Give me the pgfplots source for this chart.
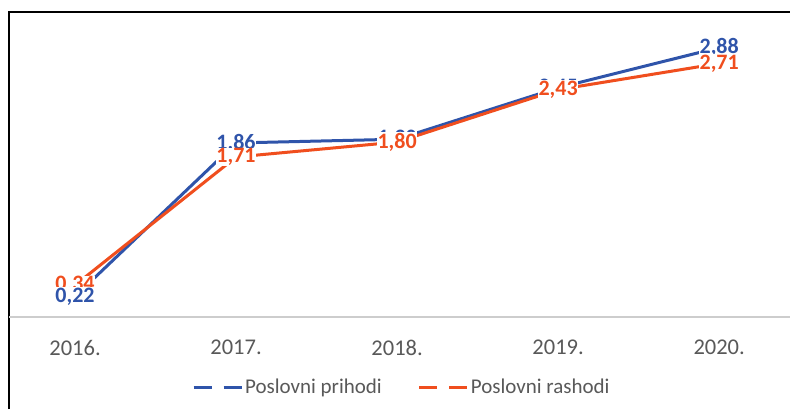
\documentclass[border=0pt]{standalone}
\usepackage{fontspec}
\setmainfont{Carlito}
\usepackage{pgfplots}
\pgfplotsset{compat=1.18}
\definecolor{cblue}{RGB}{47,84,170}
\definecolor{corange}{RGB}{240,78,30}
\definecolor{tgray}{RGB}{89,89,89}
\definecolor{agray}{RGB}{205,205,205}
\tikzset{labelnode/.style={anchor=center, fill=white, inner sep=0.5bp,
    font=\fontsize{22bp}{26bp}\selectfont\bfseries}}
\begin{document}
\begin{tikzpicture}[x=1bp,y=1bp]
\path[use as bounding box] (0,0) rectangle (790,409);
\fill[white] (0,0) rectangle (790,409);
\draw[black, line width=1.5bp] (9,0) -- (9,397) -- (791,397);
\begin{axis}[
  at={(9bp,92bp)}, anchor=south west, scale only axis,
  width=781bp, height=305bp,
  xmin=-0.41, xmax=4.44, ymin=0, ymax=3.26,
  axis y line=none, axis x line=bottom,
  x axis line style={agray, line width=1.5bp, -},
  xtick={0,1,2,3,4},
  xticklabels={2016.,2017.,2018.,2019.,2020.},
  ytick=\empty,
  major tick length=0pt,
  xticklabel style={anchor=north, yshift=-23bp, inner sep=0pt, text=tgray,
    font=\fontsize{22.5bp}{26bp}\selectfont},
  clip=false,
  legend style={at={(0.503,-0.2295)}, anchor=center, draw=none, fill=none,
    legend columns=2, text=tgray, font=\fontsize{21bp}{25bp}\selectfont,
    /tikz/every even column/.append style={column sep=34bp}},
  legend cell align=left,
  legend image code/.code={\draw[#1, dash pattern=on 18bp off 12bp] (0bp,0bp) -- (48bp,0bp);},
]
\addplot[cblue, line width=3bp] coordinates {(0,0.22) (1,1.86) (2,1.90) (3,2.45) (4,2.88)};
\addlegendentry{Poslovni prihodi}
\addplot[corange, line width=3bp] coordinates {(0,0.34) (1,1.71) (2,1.87) (3,2.43) (4,2.71)};
\addlegendentry{Poslovni rashodi}
% data labels
\addplot[draw=none, forget plot, point meta=explicit symbolic,
  nodes near coords, nodes near coords align={center},
  every node near coord/.style={labelnode, text=cblue}]
  coordinates {(1,1.86) [1,86] (2,1.90) [1,90] (3,2.45) [2,45] (4,2.88) [2,88]};
\addplot[draw=none, forget plot, point meta=explicit symbolic,
  nodes near coords, nodes near coords align={center},
  every node near coord/.style={labelnode, text=corange}]
  coordinates {(0,0.34) [0,34] (1,1.71) [1,71] (2,1.87) [1,80] (3,2.43) [2,43] (4,2.71) [2,71]};
\addplot[draw=none, forget plot, point meta=explicit symbolic,
  nodes near coords, nodes near coords align={center},
  every node near coord/.style={labelnode, text=cblue}]
  coordinates {(0,0.22) [0,22]};
\end{axis}
\end{tikzpicture}
\end{document}
